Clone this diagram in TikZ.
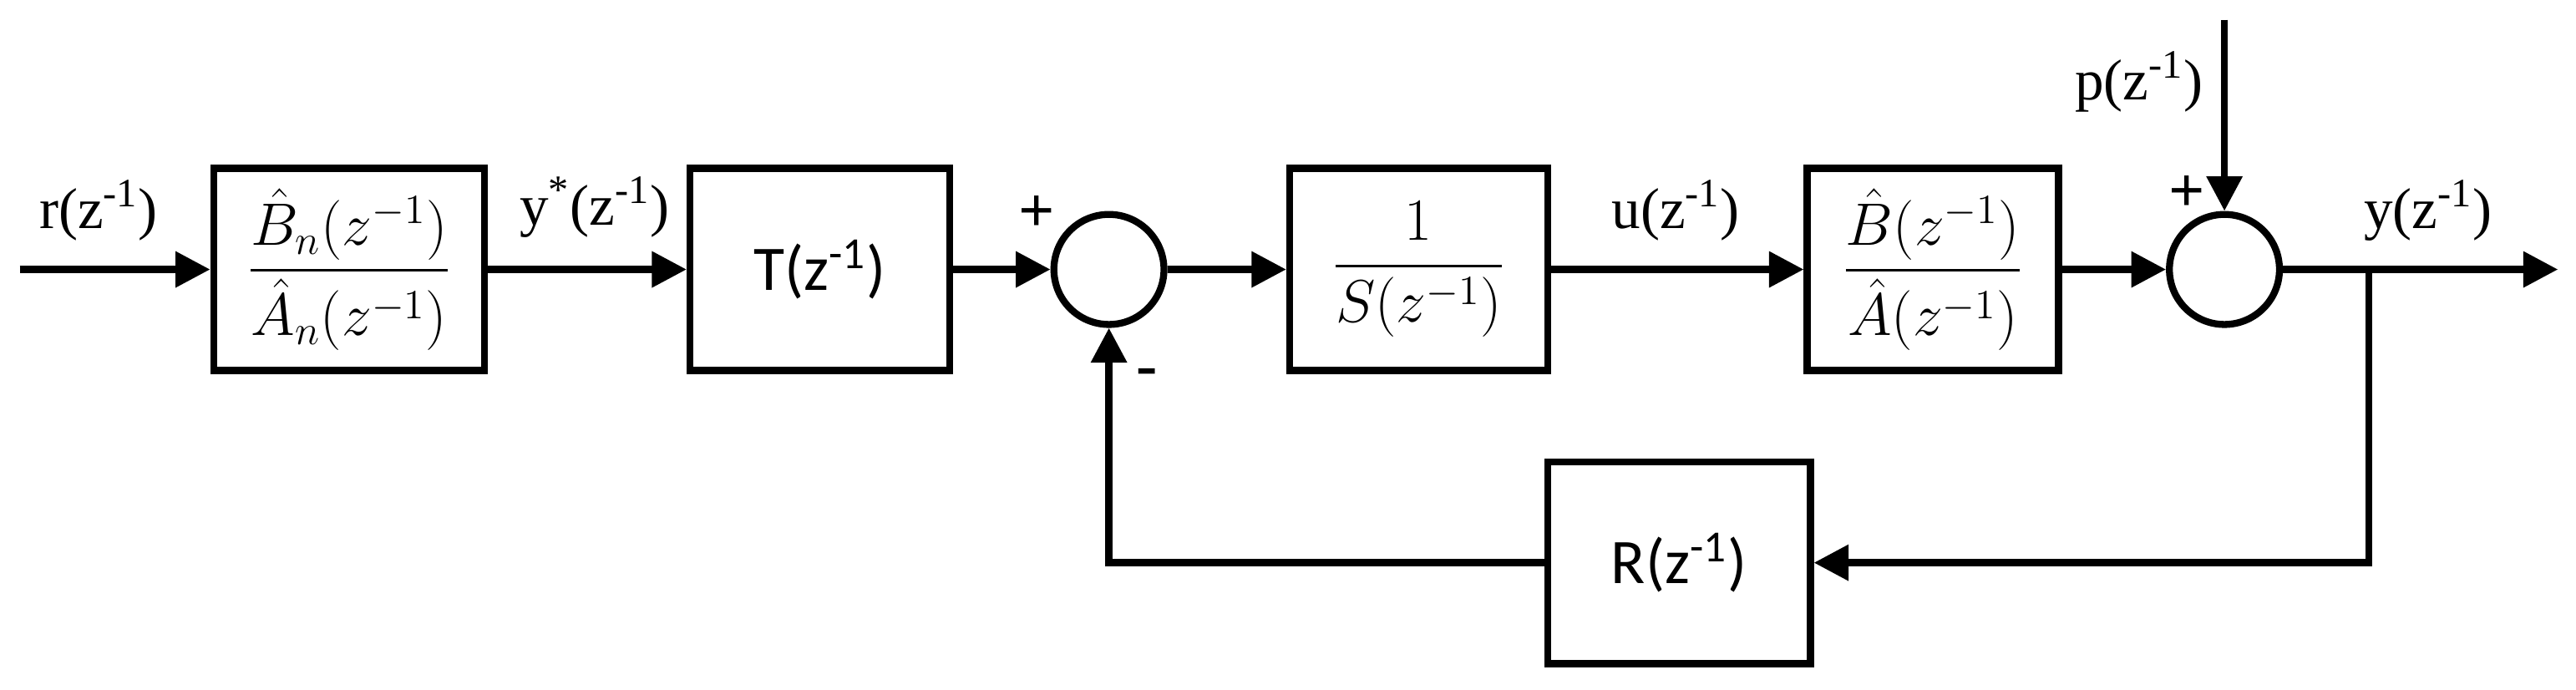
\documentclass[tikz,border=0pt]{standalone}
\usepackage{amsmath}
\usepackage{fontspec}
\setmainfont{Liberation Serif}
\newfontfamily\blockfont{Carlito}
\usetikzlibrary{arrows.meta}
\tikzset{
  block/.style={draw, line width=2.4pt, minimum height=2.46cm, inner sep=0pt},
  sumnode/.style={draw, circle, line width=2.4pt, minimum size=1.34cm, inner sep=0pt},
  sig/.style={line width=2.4pt, -{Triangle[length=12pt,width=12pt]}},
  lbl/.style={font=\fontsize{20}{24}\selectfont},
}
\begin{document}
\begin{tikzpicture}[x=0.02cm,y=-0.02cm]
    \useasboundingbox (0,0) rectangle (1568,419.5);

    % blocks of the forward path
    \node[block, minimum width=3.3cm] (gm) at (212.5,164) {\fontsize{21}{25}\selectfont$\dfrac{\hat{B}_n(z^{-1})}{\hat{A}_n(z^{-1})}$};
    \node[block, minimum width=3.16cm] (gt) at (499,164) {\blockfont\fontsize{22}{26}\selectfont T(z\textsuperscript{-1})};
    \node[sumnode] (s1) at (675,164) {};
    \node[block, minimum width=3.14cm] (gs) at (863.5,164) {\fontsize{21}{25}\selectfont$\dfrac{1}{S(z^{-1})}$};
    \node[block, minimum width=3.06cm] (gb) at (1176.5,164) {\fontsize{21}{25}\selectfont$\dfrac{\hat{B}(z^{-1})}{\hat{A}(z^{-1})}$};
    \node[sumnode] (s2) at (1354,164) {};
    \node[block, minimum width=3.2cm] (gr) at (1022,342.5) {\blockfont\fontsize{22}{26}\selectfont R(z\textsuperscript{-1})};

    % free ends
    \coordinate (in) at (12,164);
    \coordinate (out) at (1557,164);
    \coordinate (pin) at (1354,12);
    \coordinate (br) at (1442,164);

    % signals
    \draw[sig] (in) -- (gm);
    \draw[sig] (gm) -- (gt);
    \draw[sig] (gt) -- (s1);
    \draw[sig] (s1) -- (gs);
    \draw[sig] (gs) -- (gb);
    \draw[sig] (gb) -- (s2);
    \draw[sig] (s2) -- (out);
    \draw[sig] (pin) -- (s2);
    \draw[sig] (br) |- (gr);
    \draw[sig] (gr) -| (s1);

    % labels
    \node[lbl] (lr) at (60,128) {r(z\textsuperscript{-1})};
    \node[lbl] (ly) at (362,126) {y\textsuperscript{*}(z\textsuperscript{-1})};
    \node[lbl] (lu) at (1020,128) {u(z\textsuperscript{-1})};
    \node[lbl] (lo) at (1478,128) {y(z\textsuperscript{-1})};
    \node[lbl] (lp) at (1302,50) {p(z\textsuperscript{-1})};
    \node[font=\bfseries\fontsize{22}{26}\selectfont] (pl1) at (631,130) {+};
    \node[font=\bfseries\fontsize{22}{26}\selectfont] (pl2) at (1331,118) {+};
    \node[font=\bfseries\fontsize{22}{26}\selectfont] (mi1) at (698,230) {-};

\end{tikzpicture}
\end{document}
